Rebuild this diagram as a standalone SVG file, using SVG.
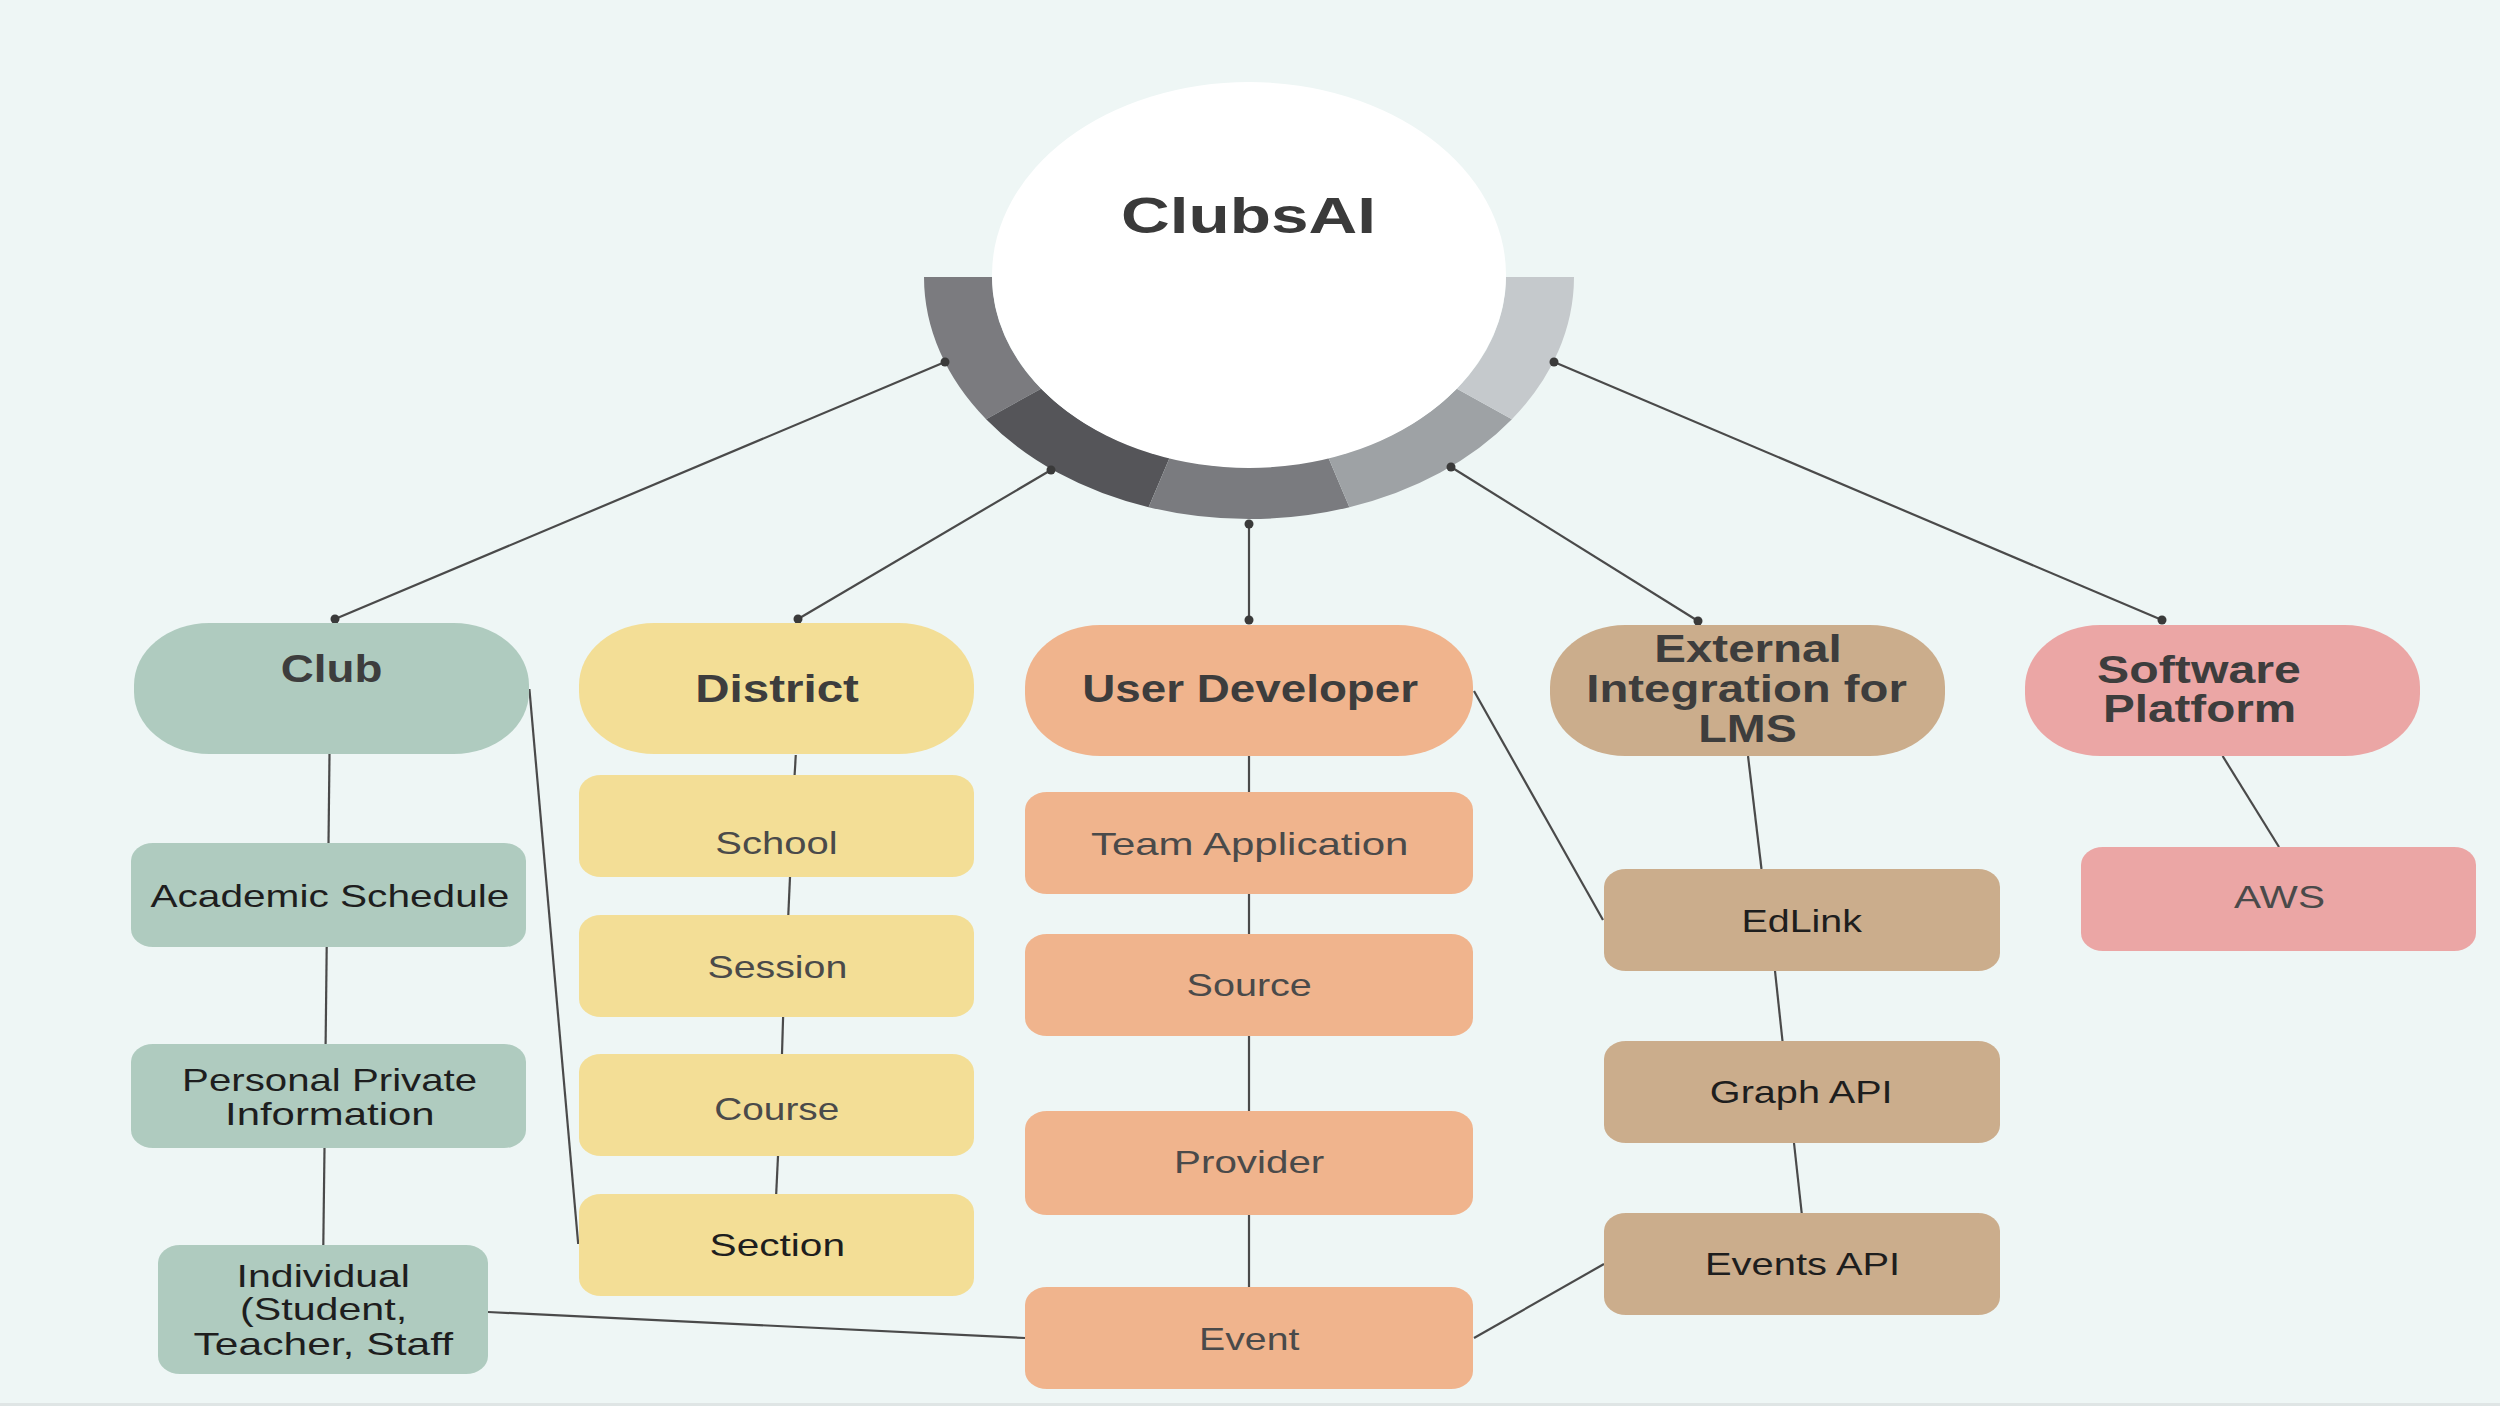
<svg xmlns="http://www.w3.org/2000/svg" width="2500" height="1406" viewBox="0 0 2500 1406">
<style>
.t{font-family:"Liberation Sans",Arial,sans-serif;text-anchor:middle}
.h{font-weight:bold;font-size:38px;fill:#3d3d3d}
.c{font-size:32px;fill:#1e1e1e}
.g{font-size:32px;fill:#4a4a4a}
.ln{stroke:#4a4a4a;stroke-width:2.2;fill:none}
.dot{fill:#3a3a3a}
.club{fill:#afcbbf}.dist{fill:#f3de96}.ud{fill:#f0b48d}.ext{fill:#cbad8c}.sw{fill:#eba6a5}
</style>
<rect x="0" y="0" width="2500" height="1406" fill="#eef6f5"/>
<rect x="0" y="1403" width="2500" height="3" fill="#dfe5e5"/>

<g id="center">
<path d="M924 277 A325 242 0 0 0 986.1 419.2 L1041.1 388.7 A257 190 0 0 1 992 277 Z" fill="#7b7b7f"/>
<path d="M986.1 419.2 A325 242 0 0 0 1148.6 507.2 L1169.6 457.7 A257 190 0 0 1 1041.1 388.7 Z" fill="#555559"/>
<path d="M1148.6 507.2 A325 242 0 0 0 1349.4 507.2 L1328.4 457.7 A257 190 0 0 1 1169.6 457.7 Z" fill="#7a7b7f"/>
<path d="M1349.4 507.2 A325 242 0 0 0 1511.9 419.2 L1456.9 388.7 A257 190 0 0 1 1328.4 457.7 Z" fill="#9ea2a5"/>
<path d="M1511.9 419.2 A325 242 0 0 0 1574 277 L1506 277 A257 190 0 0 1 1456.9 388.7 Z" fill="#c5c9cc"/>
<ellipse cx="1249" cy="275" rx="257" ry="193" fill="#ffffff"/>
<text class="t" x="1248.5" y="233" font-size="50" font-weight="bold" fill="#3a3a3a" textLength="255" lengthAdjust="spacingAndGlyphs">ClubsAI</text>
</g>

<g id="connectors">
<line class="ln" x1="945" y1="362" x2="335" y2="619"/>
<line class="ln" x1="1051" y1="470" x2="798" y2="619"/>
<line class="ln" x1="1249" y1="524" x2="1249" y2="620"/>
<line class="ln" x1="1451" y1="467" x2="1698" y2="621"/>
<line class="ln" x1="1554" y1="362" x2="2162" y2="620"/>
<circle class="dot" cx="945" cy="362" r="4.5"/>
<circle class="dot" cx="1051" cy="470" r="4.5"/>
<circle class="dot" cx="1249" cy="524" r="4.5"/>
<circle class="dot" cx="1451" cy="467" r="4.5"/>
<circle class="dot" cx="1554" cy="362" r="4.5"/>
<circle class="dot" cx="335" cy="619" r="4.5"/>
<circle class="dot" cx="798" cy="619" r="4.5"/>
<circle class="dot" cx="1249" cy="620" r="4.5"/>
<circle class="dot" cx="1698" cy="621" r="4.5"/>
<circle class="dot" cx="2162" cy="620" r="4.5"/>
<line class="ln" x1="329.5" y1="754" x2="328.5" y2="844"/>
<line class="ln" x1="326.7" y1="947" x2="325.6" y2="1045"/>
<line class="ln" x1="324.5" y1="1148" x2="323.3" y2="1245"/>
<line class="ln" x1="529.4" y1="689" x2="578.2" y2="1244"/>
<line class="ln" x1="795.8" y1="755" x2="794.6" y2="775"/>
<line class="ln" x1="790" y1="877" x2="788.3" y2="915"/>
<line class="ln" x1="783.1" y1="1017" x2="782" y2="1054"/>
<line class="ln" x1="778" y1="1156" x2="776.2" y2="1194"/>
<line class="ln" x1="488" y1="1312" x2="1025" y2="1338"/>
<line class="ln" x1="1249" y1="756" x2="1249" y2="792"/>
<line class="ln" x1="1249" y1="894" x2="1249" y2="934"/>
<line class="ln" x1="1249" y1="1036" x2="1249" y2="1111"/>
<line class="ln" x1="1249" y1="1215" x2="1249" y2="1287"/>
<line class="ln" x1="1474" y1="691" x2="1603" y2="920"/>
<line class="ln" x1="1748" y1="756" x2="1761.5" y2="869"/>
<line class="ln" x1="1775" y1="971" x2="1782.5" y2="1041"/>
<line class="ln" x1="1794" y1="1143" x2="1801.7" y2="1213"/>
<line class="ln" x1="1474" y1="1338" x2="1604" y2="1264"/>
<line class="ln" x1="2222.6" y1="756" x2="2279" y2="847"/>
</g>

<g id="club">
<rect class="club" x="134" y="623" width="395" height="131" rx="75" ry="62"/>
<text class="t h" x="331.6" y="681.6" textLength="101.6" lengthAdjust="spacingAndGlyphs">Club</text>
</g>
<g id="academic-schedule">
<rect class="club" x="131" y="843" width="395" height="104" rx="22" ry="18"/>
<text class="t c" x="329.9" y="907" textLength="358.8" lengthAdjust="spacingAndGlyphs">Academic Schedule</text>
</g>
<g id="personal-private-information">
<rect class="club" x="131" y="1044" width="395" height="104" rx="22" ry="18"/>
<text class="t c" x="329.6" y="1090.8" textLength="295" lengthAdjust="spacingAndGlyphs">Personal Private</text>
<text class="t c" x="329.8" y="1124.5" textLength="209.5" lengthAdjust="spacingAndGlyphs">Information</text>
</g>
<g id="individual">
<rect class="club" x="158" y="1245" width="330" height="129" rx="22" ry="18"/>
<text class="t c" x="323.3" y="1286.7" textLength="173.4" lengthAdjust="spacingAndGlyphs">Individual</text>
<text class="t c" x="323.6" y="1320" textLength="167" lengthAdjust="spacingAndGlyphs">(Student,</text>
<text class="t c" x="323.3" y="1355" textLength="259.5" lengthAdjust="spacingAndGlyphs">Teacher, Staff</text>
</g>

<g id="district">
<rect class="dist" x="579" y="623" width="395" height="131" rx="75" ry="62"/>
<text class="t h" x="777.1" y="702" textLength="163.6" lengthAdjust="spacingAndGlyphs">District</text>
</g>
<g id="school">
<rect class="dist" x="579" y="775" width="395" height="102" rx="22" ry="18"/>
<text class="t g" x="776.5" y="853.6" textLength="122.3" lengthAdjust="spacingAndGlyphs">School</text>
</g>
<g id="session">
<rect class="dist" x="579" y="915" width="395" height="102" rx="22" ry="18"/>
<text class="t g" x="777.4" y="977.6" textLength="140" lengthAdjust="spacingAndGlyphs">Session</text>
</g>
<g id="course">
<rect class="dist" x="579" y="1054" width="395" height="102" rx="22" ry="18"/>
<text class="t g" x="776.8" y="1120.4" textLength="125" lengthAdjust="spacingAndGlyphs">Course</text>
</g>
<g id="section">
<rect class="dist" x="579" y="1194" width="395" height="102" rx="22" ry="18"/>
<text class="t c" x="777.3" y="1255.6" textLength="135.5" lengthAdjust="spacingAndGlyphs">Section</text>
</g>

<g id="user-developer">
<rect class="ud" x="1025" y="625" width="448" height="131" rx="75" ry="62"/>
<text class="t h" x="1250.2" y="702" textLength="335.8" lengthAdjust="spacingAndGlyphs">User Developer</text>
</g>
<g id="team-application">
<rect class="ud" x="1025" y="792" width="448" height="102" rx="22" ry="18"/>
<text class="t g" x="1249.7" y="855" textLength="317.6" lengthAdjust="spacingAndGlyphs">Team Application</text>
</g>
<g id="source">
<rect class="ud" x="1025" y="934" width="448" height="102" rx="22" ry="18"/>
<text class="t g" x="1249.2" y="996.4" textLength="125.3" lengthAdjust="spacingAndGlyphs">Source</text>
</g>
<g id="provider">
<rect class="ud" x="1025" y="1111" width="448" height="104" rx="22" ry="18"/>
<text class="t g" x="1249.2" y="1173" textLength="150.2" lengthAdjust="spacingAndGlyphs">Provider</text>
</g>
<g id="event">
<rect class="ud" x="1025" y="1287" width="448" height="102" rx="22" ry="18"/>
<text class="t g" x="1249.2" y="1350" textLength="100.4" lengthAdjust="spacingAndGlyphs">Event</text>
</g>

<g id="external-integration">
<rect class="ext" x="1550" y="625" width="395" height="131" rx="75" ry="62"/>
<text class="t h" x="1748" y="662.2" font-size="33" textLength="187.5" lengthAdjust="spacingAndGlyphs">External</text>
<text class="t h" x="1746.6" y="702" font-size="33" textLength="320.5" lengthAdjust="spacingAndGlyphs">Integration for</text>
<text class="t h" x="1747.6" y="741.8" font-size="33" textLength="98.5" lengthAdjust="spacingAndGlyphs">LMS</text>
</g>
<g id="edlink">
<rect class="ext" x="1604" y="869" width="396" height="102" rx="22" ry="18"/>
<text class="t c" x="1801.7" y="931.6" textLength="120.5" lengthAdjust="spacingAndGlyphs">EdLink</text>
</g>
<g id="graph-api">
<rect class="ext" x="1604" y="1041" width="396" height="102" rx="22" ry="18"/>
<text class="t c" x="1801.2" y="1102.6" textLength="182.7" lengthAdjust="spacingAndGlyphs">Graph API</text>
</g>
<g id="events-api">
<rect class="ext" x="1604" y="1213" width="396" height="102" rx="22" ry="18"/>
<text class="t c" x="1802.6" y="1275" textLength="195.2" lengthAdjust="spacingAndGlyphs">Events API</text>
</g>

<g id="software-platform">
<rect class="sw" x="2025" y="625" width="395" height="131" rx="75" ry="62"/>
<text class="t h" x="2199" y="682.7" font-size="36" textLength="203.8" lengthAdjust="spacingAndGlyphs">Software</text>
<text class="t h" x="2199.6" y="722.4" font-size="36" textLength="193.3" lengthAdjust="spacingAndGlyphs">Platform</text>
</g>
<g id="aws">
<rect class="sw" x="2081" y="847" width="395" height="104" rx="22" ry="18"/>
<text class="t g" x="2279.5" y="907.7" textLength="90.9" lengthAdjust="spacingAndGlyphs">AWS</text>
</g>
</svg>
